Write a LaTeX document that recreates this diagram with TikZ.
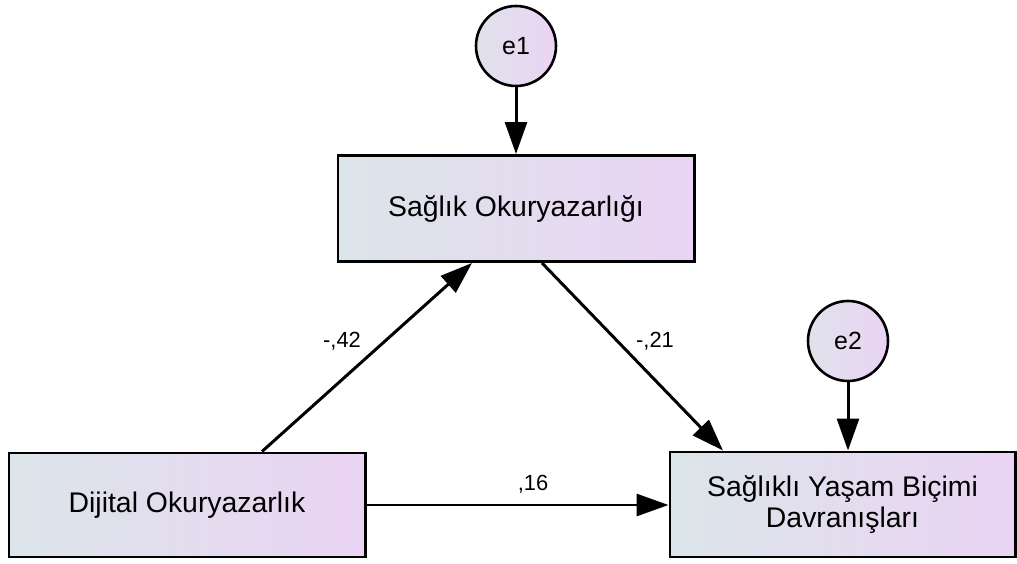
\documentclass[tikz,border=0pt]{standalone}
\usepackage{fontspec}
\setmainfont{Liberation Sans}
\usepackage{tikz}
\usetikzlibrary{arrows.meta, positioning}
\definecolor{shadeleft}{HTML}{DCE5E9}
\definecolor{shaderight}{HTML}{EAD4F4}
\definecolor{errfill}{HTML}{E6DDF0}

\begin{document}
\begin{tikzpicture}[
  x=1bp, y=-1bp,
  var/.style = {
    rectangle, draw=black, line width=3pt,
    left color=shadeleft, right color=shaderight,
    align=center, font=\fontsize{28.5}{32}\selectfont
  },
  err/.style = {
    circle, draw=black, line width=2.6pt,
    minimum size=80bp, inner sep=0pt,
    left color=shadeleft!60!errfill, right color=shaderight,
    font=\fontsize{25}{28}\selectfont
  },
  coef/.style = {font=\fontsize{22}{25}\selectfont},
  arr/.style = {-{Triangle[length=32bp, width=22bp]}, line width=3pt}
]
  \useasboundingbox (0,0) rectangle (1017,564);

  \node[var, minimum width=356bp, minimum height=106bp] (so)   at (516,208.5) {Sağlık Okuryazarlığı};
  \node[var, minimum width=356bp, minimum height=104bp] (do)   at (187,505)   {Dijital Okuryazarlık};
  \node[var, minimum width=345bp, minimum height=105bp] (sybd) at (842.5,504.5)
    {Sağlıklı Yaşam Biçimi\\Davranışları};

  \node[err] (e1) at (516,46)  {e1};
  \node[err] (e2) at (848,341) {e2};

  \draw[arr] (e1) -- (so);
  \draw[arr] (e2) -- (e2 |- sybd.north);
  \draw[arr] ([xshift=75bp]do.north)  -- ([xshift=-44bp]so.south);
  \draw[arr] ([xshift=26bp]so.south)  -- ([xshift=-119.5bp]sybd.north);
  \draw[arr] (do.east) -- (sybd.west |- do.east);

  \node[coef] (c42) at (342,341) {-,42};
  \node[coef] (c21) at (655,341) {-,21};
  \node[coef] (c16) at (533,484) {,16};
\end{tikzpicture}
\end{document}
